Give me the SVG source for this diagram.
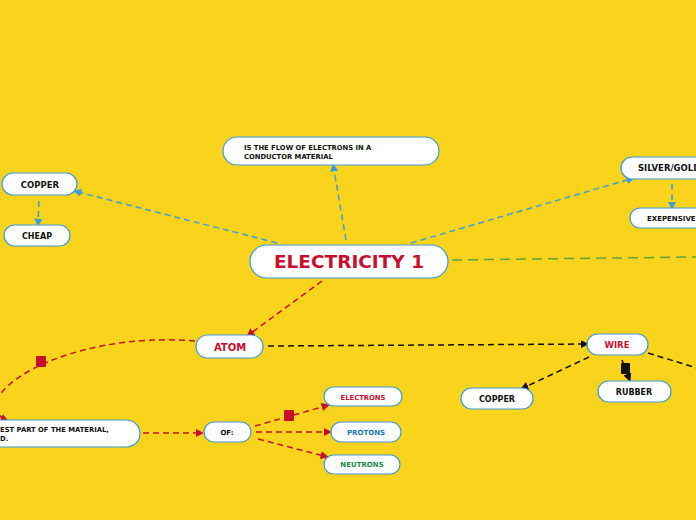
<svg xmlns="http://www.w3.org/2000/svg" width="696" height="520" viewBox="0 0 696 520">
<defs>
<style>
.n{fill:#fff;stroke:#3d9bd6;stroke-width:1.2}
.t{font-family:"DejaVu Sans","Liberation Sans",sans-serif;font-weight:bold;text-anchor:middle;fill:#111}
.b{fill:none;stroke:#3a9fd9;stroke-width:1.5;stroke-dasharray:6,4}
.r{fill:none;stroke:#c8102e;stroke-width:1.5;stroke-dasharray:6,4}
.k{fill:none;stroke:#111;stroke-width:1.5;stroke-dasharray:6,4}
.g{fill:none;stroke:#5aa63c;stroke-width:1.5;stroke-dasharray:10,6}
</style>
<marker id="ab" viewBox="0 0 10 10" refX="9" refY="5" markerWidth="5.5" markerHeight="5.5" orient="auto"><path d="M0,0L10,5L0,10z" fill="#3a9fd9"/></marker>
<marker id="ar" viewBox="0 0 10 10" refX="9" refY="5" markerWidth="5.5" markerHeight="5.5" orient="auto"><path d="M0,0L10,5L0,10z" fill="#c8102e"/></marker>
<marker id="ak" viewBox="0 0 10 10" refX="9" refY="5" markerWidth="5.5" markerHeight="5.5" orient="auto"><path d="M0,0L10,5L0,10z" fill="#111"/></marker>
</defs>
<rect width="696" height="520" fill="#f9d31c"/>
<g id="connectors">
<path class="b" d="M277,243L74,191" marker-end="url(#ab)"/>
<path class="b" d="M346,240L333,164" marker-end="url(#ab)"/>
<path class="b" d="M411,243L634,178" marker-end="url(#ab)"/>
<path class="b" d="M39,201L38,226" marker-end="url(#ab)"/>
<path class="b" d="M672,184L672,209" marker-end="url(#ab)"/>
<path class="g" d="M452,260L696,257"/>
<path class="r" d="M322,281L247,336" marker-end="url(#ar)"/>
<path class="k" d="M268,346L588,344" marker-end="url(#ak)"/>
<path class="k" d="M589,357L521,389" marker-end="url(#ak)"/>
<path class="k" d="M622,360L630,381" marker-end="url(#ak)"/>
<rect x="621" y="363" width="9" height="11" rx="1" fill="#111"/>
<path class="k" d="M648,353L700,369"/>
<path class="r" d="M195,341C60,330 -40,400 8,421" marker-end="url(#ar)"/>
<rect x="36" y="356" width="10" height="11" rx="1" fill="#c8102e"/>
<path class="r" d="M143,433L203,433" marker-end="url(#ar)"/>
<path class="r" d="M255,426L329,405" marker-end="url(#ar)"/>
<rect x="284" y="410" width="10" height="11" rx="1" fill="#c8102e"/>
<path class="r" d="M256,432L331,432" marker-end="url(#ar)"/>
<path class="r" d="M258,439L328,457" marker-end="url(#ar)"/>
</g>
<g id="electricity">
<rect class="n" x="250" y="245" width="198" height="33" rx="16.5"/>
<text class="t" x="349" y="268" font-size="18.5" style="fill:#c8102e">ELECTRICITY 1</text>
</g>
<g id="flow">
<rect class="n" x="223" y="137" width="216" height="28" rx="14"/>
<text class="t" x="244" y="150" font-size="6.8" style="text-anchor:start">IS THE FLOW OF ELECTRONS IN A</text>
<text class="t" x="244" y="159" font-size="6.8" style="text-anchor:start">CONDUCTOR MATERIAL</text>
</g>
<g id="copper1">
<rect class="n" x="2" y="173" width="75" height="22" rx="11"/>
<text class="t" x="40" y="188" font-size="8.5">COPPER</text>
</g>
<g id="cheap">
<rect class="n" x="4" y="225" width="66" height="21" rx="10.5"/>
<text class="t" x="37" y="239" font-size="8">CHEAP</text>
</g>
<g id="silver">
<rect class="n" x="621" y="157" width="100" height="22" rx="11"/>
<text class="t" x="638" y="171" font-size="8.5" style="text-anchor:start">SILVER/GOLD</text>
</g>
<g id="expensive">
<rect class="n" x="630" y="208" width="90" height="20" rx="10"/>
<text class="t" x="647" y="221" font-size="7" style="text-anchor:start">EXEPENSIVE</text>
</g>
<g id="atom">
<rect class="n" x="196" y="335" width="67" height="23" rx="11.5"/>
<text class="t" x="230" y="351" font-size="10" style="fill:#c8102e">ATOM</text>
</g>
<g id="wire">
<rect class="n" x="587" y="334" width="61" height="21" rx="10.5"/>
<text class="t" x="617" y="348" font-size="8.5" style="fill:#c8102e">WIRE</text>
</g>
<g id="copper2">
<rect class="n" x="461" y="388" width="72" height="21" rx="10.5"/>
<text class="t" x="497" y="402" font-size="8">COPPER</text>
</g>
<g id="rubber">
<rect class="n" x="598" y="381" width="73" height="21" rx="10.5"/>
<text class="t" x="634" y="395" font-size="8">RUBBER</text>
</g>
<g id="smallest">
<rect class="n" x="-60" y="420" width="200" height="27" rx="13.5"/>
<text class="t" x="0" y="432" font-size="6.8" style="text-anchor:start">EST PART OF THE MATERIAL,</text>
<text class="t" x="0" y="441" font-size="6.8" style="text-anchor:start">D.</text>
</g>
<g id="of">
<rect class="n" x="204" y="422" width="47" height="20" rx="10"/>
<text class="t" x="227" y="435" font-size="7">OF:</text>
</g>
<g id="electrons">
<rect class="n" x="324" y="387" width="78" height="19" rx="9.5"/>
<text class="t" x="363" y="400" font-size="6.8" style="fill:#c8102e">ELECTRONS</text>
</g>
<g id="protons">
<rect class="n" x="331" y="422" width="70" height="20" rx="10"/>
<text class="t" x="366" y="435" font-size="7" style="fill:#1a7ab8">PROTONS</text>
</g>
<g id="neutrons">
<rect class="n" x="324" y="455" width="76" height="19" rx="9.5"/>
<text class="t" x="362" y="467" font-size="7" style="fill:#1a8a4a">NEUTRONS</text>
</g>
</svg>
